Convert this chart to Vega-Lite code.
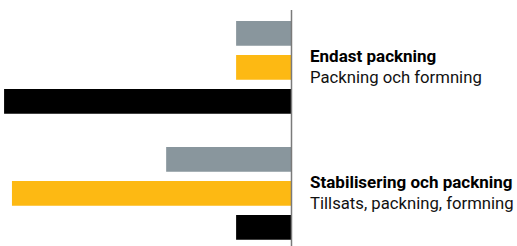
{
  "$schema": "https://vega.github.io/schema/vega-lite/v6.json",
  "autosize": "none",
  "width": 517,
  "height": 236,
  "padding": {"left": 0, "right": 0, "top": 10, "bottom": 0},
  "config": {"view": {"stroke": null}},
  "datasets": {
    "bars": [
      {"group": "Endast packning", "serie": "grå", "value": 19.0},
      {"group": "Endast packning", "serie": "gul", "value": 19.0},
      {"group": "Endast packning", "serie": "svart", "value": 98.6},
      {"group": "Stabilisering och packning", "serie": "grå", "value": 43.0},
      {"group": "Stabilisering och packning", "serie": "gul", "value": 95.9},
      {"group": "Stabilisering och packning", "serie": "svart", "value": 19.0}
    ],
    "labels": [
      {"group": "Endast packning", "title": "Endast packning", "sub": "Packning och formning"},
      {"group": "Stabilisering och packning", "title": "Stabilisering och packning", "sub": "Tillsats, packning, formning"}
    ]
  },
  "layer": [
    {
      "data": {"name": "bars"},
      "mark": {"type": "bar"},
      "encoding": {
        "y": {"field": "group", "type": "nominal", "axis": null, "sort": null,
              "scale": {"paddingInner": 0.264, "paddingOuter": 0.0687, "align": 0.636}},
        "yOffset": {"field": "serie", "type": "nominal", "sort": ["grå", "gul", "svart"],
                    "scale": {"paddingInner": 0.27, "paddingOuter": 0}},
        "x": {"field": "value", "type": "quantitative", "axis": null,
              "scale": {"domain": [-77.36, 100], "reverse": true, "nice": false, "zero": false}},
        "color": {"field": "serie", "type": "nominal", "legend": null,
                  "scale": {"domain": ["grå", "gul", "svart"], "range": ["#89969D", "#FDB913", "#000000"]}}
      }
    },
    {
      "data": {"values": [{"x": 0}]},
      "mark": {"type": "rule", "color": "#7a7a7a", "strokeWidth": 1.5},
      "encoding": {"x": {"field": "x", "type": "quantitative"}}
    },
    {
      "data": {"name": "labels"},
      "mark": {"type": "text", "align": "left", "baseline": "alphabetic", "dx": 18.5, "dy": -5,
               "font": "Roboto", "fontWeight": "bold", "fontSize": 17, "color": "#000000"},
      "encoding": {
        "y": {"field": "group", "type": "nominal", "sort": null},
        "x": {"datum": 0},
        "text": {"field": "title"}
      }
    },
    {
      "data": {"name": "labels"},
      "mark": {"type": "text", "align": "left", "baseline": "alphabetic", "dx": 18.5, "dy": 15.5,
               "font": "Roboto", "fontSize": 16.7, "color": "#111111"},
      "encoding": {
        "y": {"field": "group", "type": "nominal", "sort": null},
        "x": {"datum": 0},
        "text": {"field": "sub"}
      }
    }
  ]
}
